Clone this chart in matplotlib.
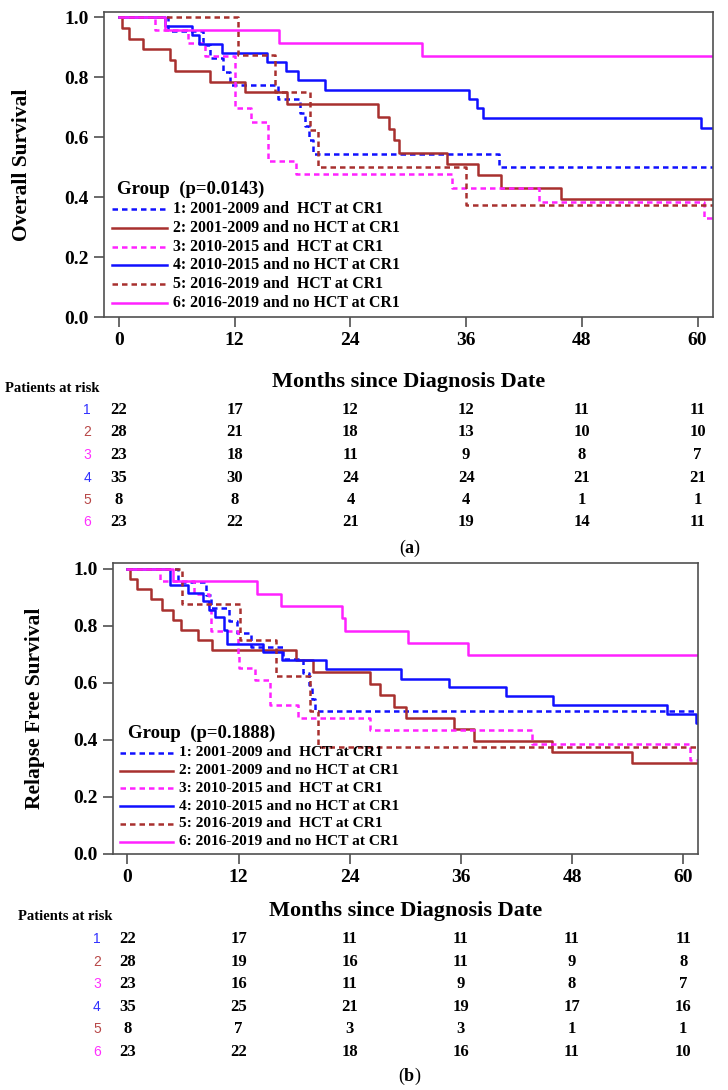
import matplotlib
matplotlib.use("Agg")
import matplotlib.pyplot as plt
import matplotlib.transforms as mtransforms
from matplotlib.lines import Line2D

W, H = 728, 1090

group_labels = ['1: 2001-2009 and  HCT at CR1', '2: 2001-2009 and no HCT at CR1',
                '3: 2010-2015 and  HCT at CR1', '4: 2010-2015 and no HCT at CR1',
                '5: 2016-2019 and  HCT at CR1', '6: 2016-2019 and no HCT at CR1']
group_colors = ['#1010ff', '#a8302e', '#ff22ff', '#1010ff', '#a8302e', '#ff22ff']
group_dashed = [True, False, True, False, True, False]
risk_label_colors = ['#3030ff', '#b84848', '#ff30ff', '#3030ff', '#b84848', '#ff30ff']
risk_months = [0, 12, 24, 36, 48, 60]

# overall survival (a)
os_t1 = [0, 5.1, 8.7, 9.4, 10.8, 11.5, 16.5, 18.75, 19.3, 19.7, 20.15, 39.4, 62]
os_s1 = [1.0, 0.955, 0.909, 0.864, 0.818, 0.773, 0.727, 0.682, 0.636, 0.591, 0.545, 0.5, 0.5]
os_t2 = [0, 0.3, 1.0, 2.5, 5.3, 5.8, 9.4, 13.1, 17.4, 26.9, 28.0, 28.5, 29.05, 34.0, 37.2, 39.6, 45.8, 62]
os_s2 = [1.0, 0.964, 0.929, 0.893, 0.857, 0.821, 0.786, 0.75, 0.71, 0.668, 0.629, 0.59, 0.549, 0.511,
         0.473, 0.432, 0.393, 0.393]
os_t3 = [0, 3.7, 7.2, 8.9, 12.0, 13.7, 15.5, 18.4, 34.5, 43.6, 60.7, 62]
os_s3 = [1.0, 0.957, 0.913, 0.870, 0.696, 0.652, 0.522, 0.478, 0.429, 0.384, 0.329, 0.329]
os_t4 = [0, 4.8, 7.6, 8.3, 10.7, 15.3, 17.3, 18.6, 21.35, 36.3, 37.1, 37.75, 60.4, 62]
os_s4 = [1.0, 0.971, 0.942, 0.912, 0.881, 0.851, 0.821, 0.79, 0.758, 0.727, 0.696, 0.663, 0.631, 0.631]
os_t5 = [0, 12.3, 16.2, 19.8, 20.6, 36.0, 62]
os_s5 = [1.0, 0.875, 0.75, 0.625, 0.5, 0.375, 0.375]
os_t6 = [0, 4.8, 16.6, 31.4, 62]
os_s6 = [1.0, 0.957, 0.913, 0.870, 0.870]
os_risk = [[22, 17, 12, 12, 11, 11], [28, 21, 18, 13, 10, 10], [23, 18, 11, 9, 8, 7],
           [35, 30, 24, 24, 21, 21], [8, 8, 4, 4, 1, 1], [23, 22, 21, 19, 14, 11]]

# relapse free survival (b)
rfs_t1 = [0, 5.5, 8.5, 9.0, 11.0, 11.8, 13.3, 16.8, 19.0, 19.6, 19.9, 20.2, 62]
rfs_s1 = [1.0, 0.955, 0.909, 0.864, 0.818, 0.773, 0.727, 0.682, 0.636, 0.591, 0.545, 0.5, 0.5]
rfs_t2 = [0, 0.25, 1.0, 2.6, 3.7, 4.9, 5.8, 7.6, 9.1, 18.2, 20.0, 26.2, 27.3, 28.8, 30.1, 35.3, 37.4,
          45.8, 54.5, 62]
rfs_s2 = [1.0, 0.964, 0.929, 0.893, 0.857, 0.821, 0.786, 0.75, 0.714, 0.679, 0.638, 0.597, 0.556, 0.517,
          0.477, 0.438, 0.397, 0.356, 0.318, 0.318]
rfs_t3 = [0, 3.5, 7.2, 8.8, 9.0, 11.9, 12.1, 13.8, 15.4, 18.4, 26.2, 43.7, 60.7, 62]
rfs_s3 = [1.0, 0.957, 0.913, 0.870, 0.783, 0.696, 0.652, 0.609, 0.522, 0.478, 0.436, 0.386, 0.331, 0.331]
rfs_t4 = [0, 4.6, 6.5, 8.2, 8.8, 9.5, 10.4, 10.7, 14.65, 16.7, 21.4, 29.5, 34.7, 40.9, 46.0, 58.2, 61.4, 62]
rfs_s4 = [1.0, 0.943, 0.914, 0.886, 0.857, 0.829, 0.786, 0.736, 0.708, 0.681, 0.648, 0.614, 0.585, 0.555,
          0.523, 0.492, 0.459, 0.459]
rfs_t5 = [0, 5.9, 12.2, 16.0, 19.7, 20.6, 62]
rfs_s5 = [1.0, 0.875, 0.75, 0.625, 0.5, 0.375, 0.375]
rfs_t6 = [0, 4.9, 14.0, 16.6, 23.2, 23.5, 30.3, 36.8, 62]
rfs_s6 = [1.0, 0.957, 0.913, 0.870, 0.826, 0.783, 0.739, 0.696, 0.696]
rfs_risk = [[22, 17, 11, 11, 11, 11], [28, 19, 16, 11, 9, 8], [23, 16, 11, 9, 8, 7],
            [35, 25, 21, 19, 17, 16], [8, 7, 3, 3, 1, 1], [23, 22, 18, 16, 11, 10]]

plt.rcParams['font.family'] = ['Liberation Serif', 'DejaVu Serif']
plt.rcParams['font.weight'] = 'bold'
plt.rcParams['mathtext.fontset'] = 'custom'
plt.rcParams['mathtext.bf'] = 'Liberation Serif:bold'
plt.rcParams['mathtext.rm'] = 'Liberation Serif'

fig = plt.figure(figsize=(W / 100, H / 100), dpi=100)


def fx(px):
    return px / W


def fy(py):
    return 1 - py / H


def panel(box, times, survs, ylabel, pval, risk, ymax, leg, table, tag):
    left, top, right, bottom = box
    ax = fig.add_axes([fx(left), fy(bottom), fx(right) - fx(left), fy(top) - fy(bottom)])
    for i in range(6):
        ls = (0, (2.2, 1.6)) if group_dashed[i] else '-'
        ax.step(times[i], survs[i], where='post', color=group_colors[i], lw=1.8, linestyle=ls)
    ax.set_xlim(-1.555, 61.6)
    ax.set_ylim(0, ymax)
    ax.set_xticks(risk_months)
    ax.set_yticks([0, 0.2, 0.4, 0.6, 0.8, 1.0])
    ax.set_yticklabels(['0.0', '0.2', '0.4', '0.6', '0.8', '1.0'])
    for sp in ax.spines.values():
        sp.set_color('#505050')
        sp.set_linewidth(1.2)
    ax.tick_params(length=7, width=1.2, color='#505050', labelsize=14, pad=4)
    ax.set_ylabel(ylabel, fontsize=15.5, fontweight='bold')
    ax.yaxis.set_label_coords((tag[2] - left) / (right - left), 0.5)

    # legend drawn by hand
    lx0, lx1, tx, ty, y0, dy, fs = leg
    fig.text(fx(tx), fy(ty), 'Group  (p=%s)' % pval, fontsize=13.5, fontweight='bold', va='center')
    for i in range(6):
        yy = fy(y0 + i * dy)
        ls = (0, (2.2, 1.6)) if group_dashed[i] else '-'
        fig.add_artist(Line2D([fx(lx0), fx(lx1)], [yy, yy], color=group_colors[i], lw=1.8, linestyle=ls))
        fig.text(fx(lx1 + 6), yy, group_labels[i], fontsize=fs, fontweight='bold', va='center')

    # risk table
    month_y, pat_x, pat_y, row0, drow = table
    fig.text(fx((left + right) / 2), fy(month_y), 'Months since Diagnosis Date', fontsize=16,
             fontweight='bold', ha='center', va='center')
    fig.text(fx(pat_x), fy(pat_y), 'Patients at risk', fontsize=10.5, fontweight='bold',
             ha='center', va='center')
    tr = mtransforms.blended_transform_factory(ax.transData, fig.transFigure)
    for i in range(6):
        yy = fy(row0 + i * drow)
        ax.text(-3.3, yy, str(i + 1), transform=tr, color=risk_label_colors[i], fontsize=10,
                fontweight='normal', family=['Liberation Sans', 'DejaVu Sans'], ha='center', va='center',
                clip_on=False)
        for j, m in enumerate(risk_months):
            ax.text(m, yy, str(risk[i][j]), transform=tr, fontsize=12, fontweight='bold',
                    ha='center', va='center', clip_on=False)
    fig.text(fx(410), fy(tag[1]), r'($\mathbf{%s}$)' % tag[0], fontsize=13, fontweight='normal',
             ha='center', va='center')
    return ax


panel((104, 12, 713, 317),
      [os_t1, os_t2, os_t3, os_t4, os_t5, os_t6],
      [os_s1, os_s2, os_s3, os_s4, os_s5, os_s6],
      'Overall Survival', '0.0143', os_risk, 1.018,
      (112, 167, 117, 189, 209.3, 18.7, 11.4),
      (382, 52, 388, 410, 22.5),
      ('a', 548, 32))

panel((113, 563, 698, 854),
      [rfs_t1, rfs_t2, rfs_t3, rfs_t4, rfs_t5, rfs_t6],
      [rfs_s1, rfs_s2, rfs_s3, rfs_s4, rfs_s5, rfs_s6],
      'Relapse Free Survival', '0.1888', rfs_risk, 1.02,
      (120, 173, 128, 733, 752.7, 17.8, 11.1),
      (911, 65, 917, 939, 22.6),
      ('b', 1076, 45))

fig.savefig('out.png', dpi=100)
